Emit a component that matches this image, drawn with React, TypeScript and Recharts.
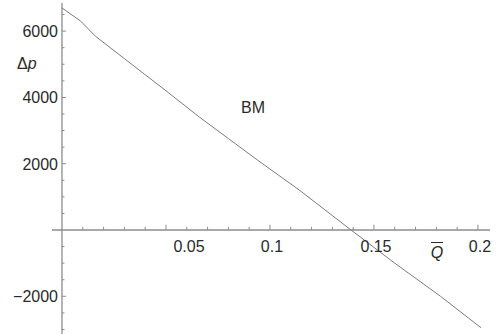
import { LineChart, Line, XAxis, YAxis, ReferenceLine, ReferenceDot } from "recharts";

// curve
const qBar = [0, 0.009, 0.016, 0.03, 0.05, 0.066, 0.08, 0.094, 0.114, 0.139, 0.16, 0.182, 0.2015];
const deltaP = [6700, 6300, 5850, 5170, 4200, 3410, 2760, 2110, 1210, 0, -1000, -2000, -2950];

const xMajor = [0.05, 0.1, 0.15, 0.2];
const xMajorLabels = ["0.05", "0.1", "0.15", "0.2"];
const xMinor = [0.01, 0.02, 0.03, 0.04, 0.06, 0.07, 0.08, 0.09, 0.11, 0.12, 0.13, 0.14, 0.16, 0.17, 0.18, 0.19];
const yMajor = [6000, 4000, 2000, -2000];
const yMajorLabels = ["6000", "4000", "2000", "\u22122000"];
const yMinor = [6500, 5500, 5000, 4500, 3500, 3000, 2500, 1500, 1000, 500, -500, -1000, -1500, -2500, -3000];

const data = qBar.map((q, i) => ({ q, dp: deltaP[i] }));

const FONT = "'Liberation Sans', Arial, Helvetica, sans-serif";
const TEXT = "#2a2a2a";
const AXIS = "#8c8c8c";

// tick lengths in data units (about 5/3 px vertically, 4/2.5 px horizontally)
const X_TICK_MAJOR = 160;
const X_TICK_MINOR = 95;
const Y_TICK_MAJOR = 0.0019;
const Y_TICK_MINOR = 0.0012;

const xLabel = (text: string, dx = 0) => ({
  content: (p: any) => {
    const vb = p.viewBox;
    return (
      <text x={vb.x + vb.width / 2 + dx} y={vb.y + vb.height + 21} textAnchor="middle"
        fontFamily={FONT} fontSize={16} fill={TEXT}>{text}</text>
    );
  },
});

const yLabel = (text: string) => ({
  content: (p: any) => {
    const vb = p.viewBox;
    return (
      <text x={vb.x - 3} y={vb.y + vb.height / 2 + 6} textAnchor="end"
        fontFamily={FONT} fontSize={16} fill={TEXT}>{text}</text>
    );
  },
});

export default function App() {
  return (
    <div style={{ position: "absolute", left: 0, top: 0, width: 497, height: 334, background: "#fff" }}>
      <LineChart width={497} height={334} data={data} margin={{ top: 3, right: 7, bottom: 0, left: 52 }}>
        <XAxis dataKey="q" type="number" domain={[-0.0048, 0.2058]} hide allowDataOverflow />
        <YAxis type="number" domain={[-3137, 6848]} hide allowDataOverflow />

        {/* axes through the origin */}
        <ReferenceLine y={0} stroke={AXIS} strokeWidth={1.3} />
        <ReferenceLine x={0} stroke={AXIS} strokeWidth={1.3} />

        {xMinor.map(v => (
          <ReferenceLine key={"xm" + v} segment={[{ x: v, y: 0 }, { x: v, y: X_TICK_MINOR }]} stroke={AXIS} strokeWidth={1} />
        ))}
        {xMajor.map(v => (
          <ReferenceLine key={"xM" + v} segment={[{ x: v, y: 0 }, { x: v, y: X_TICK_MAJOR }]} stroke={AXIS} strokeWidth={1} />
        ))}
        {yMinor.map(v => (
          <ReferenceLine key={"ym" + v} segment={[{ x: 0, y: v }, { x: Y_TICK_MINOR, y: v }]} stroke={AXIS} strokeWidth={1} />
        ))}
        {yMajor.map(v => (
          <ReferenceLine key={"yM" + v} segment={[{ x: 0, y: v }, { x: Y_TICK_MAJOR, y: v }]} stroke={AXIS} strokeWidth={1} />
        ))}

        {xMajor.map((v, i) => (
          <ReferenceDot key={"xl" + v} x={v} y={0} r={1} fill="none" stroke="none"
            label={xLabel(xMajorLabels[i], i === 0 ? 23 : 2)} />
        ))}
        {yMajor.map((v, i) => (
          <ReferenceDot key={"yl" + v} x={0} y={v} r={1} fill="none" stroke="none"
            label={yLabel(yMajorLabels[i])} />
        ))}

        <Line type="linear" dataKey="dp" stroke="#7c7c7c" strokeWidth={1} dot={false} isAnimationActive={false} />

        {/* axis titles and curve label */}
        <text x={17} y={69} fontFamily={FONT} fontSize={16} fill={TEXT}>
          Δ<tspan fontStyle="italic">p</tspan>
        </text>
        <text x={253} y={113} textAnchor="middle" fontFamily={FONT} fontSize={16} fill={TEXT}>BM</text>
        <text x={437} y={258} textAnchor="middle" fontFamily={FONT} fontSize={16} fontStyle="italic" fill={TEXT}>Q</text>
        <line x1={431} x2={443} y1={242.5} y2={242.5} stroke={TEXT} strokeWidth={1} />
      </LineChart>
    </div>
  );
}
